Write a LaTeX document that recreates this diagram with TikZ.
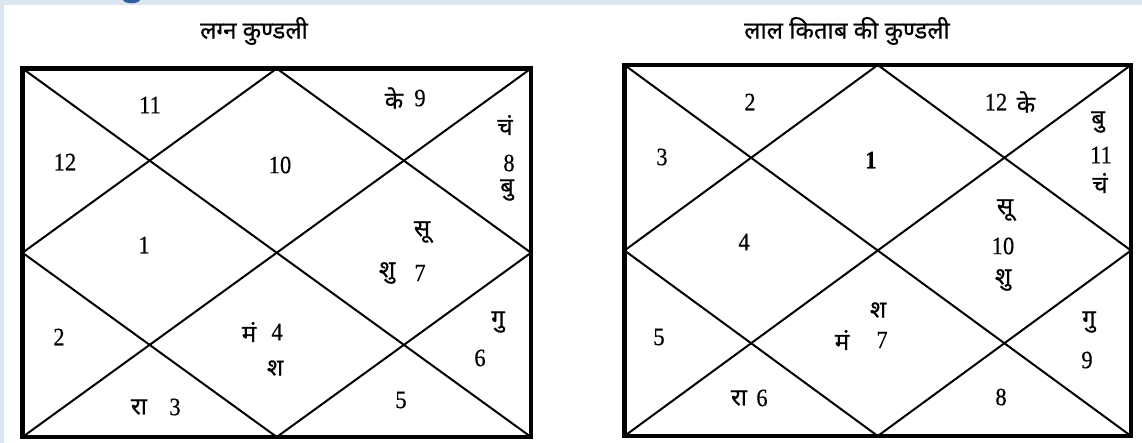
\documentclass[tikz,border=0pt]{standalone}
\usepackage{fontspec}
\setmainfont{Liberation Serif}
\newfontfamily\devfont[Script=Devanagari,FakeBold=0.6]{Noto Sans}
\newfontfamily\numfont[FakeStretch=0.9,FakeBold=0.4]{Liberation Serif}
\definecolor{bgblue}{HTML}{DCE6F1}
\definecolor{blobblue}{HTML}{2F5E9C}
\tikzset{
  frame/.style={line width=4.5pt, line join=miter},
  diag/.style={line width=2pt},
  num/.style={inner sep=0pt, font=\numfont\fontsize{25}{25}\selectfont},
  pl/.style={inner sep=0pt, font=\devfont\fontsize{24}{24}\selectfont},
  ttl/.style={inner sep=0pt, font=\devfont\fontsize{24}{24}\selectfont},
}
\begin{document}
\begin{tikzpicture}[x=1pt,y=-1pt]
\useasboundingbox (0,0) rectangle (1142,443);
\clip (0,0) rectangle (1142,443);
\fill[bgblue] (0,0) rectangle (1142,443);
\fill[white] (4,5) rectangle (1142,443);
\fill[blobblue] (131.5,-0.5) ellipse (8.5 and 3.8);

% ---------- left chart ----------
\coordinate (Lnw) at (22.5,68.5);
\coordinate (Lne) at (531,68.5);
\coordinate (Lsw) at (22.5,437);
\coordinate (Lse) at (531,437);
\coordinate (Ln) at (276.75,68.5);
\coordinate (Ls) at (276.75,437);
\coordinate (Lw) at (22.5,252.75);
\coordinate (Le) at (531,252.75);
\draw[diag] (Lnw) -- (Lse);
\draw[diag] (Lne) -- (Lsw);
\draw[diag] (Ln) -- (Le) -- (Ls) -- (Lw) -- cycle;
\draw[frame] (Lnw) rectangle (Lse);

\node[ttl] (Ltitle) at (254,31) {लग्न कुण्डली};

\node[num] (L11) at (150,105) {11};
\node[pl]  (Lke) at (394,98) {के};
\node[num] (L9)  at (420,98) {9};
\node[pl]  (Lch) at (505,125) {चं};
\node[num] (L8)  at (509,163) {8};
\node[pl]  (Lbu) at (507,190) {बु};
\node[num] (L12) at (65,162) {12};
\node[num] (L10) at (280,165) {10};
\node[num] (L1)  at (144,245) {1};
\node[pl]  (Lsu) at (422,232) {सू};
\node[pl]  (Lshu) at (387,273) {शु};
\node[num] (L7)  at (420,273) {7};
\node[num] (L2)  at (59,337) {2};
\node[pl]  (Lma) at (249,332) {मं};
\node[num] (L4)  at (277,332) {4};
\node[pl]  (Lsha) at (275,368) {श};
\node[pl]  (Lgu) at (498,322) {गु};
\node[num] (L6)  at (480,358) {6};
\node[num] (L5)  at (401,400) {5};
\node[pl]  (Lra) at (139,407) {रा};
\node[num] (L3)  at (175,407) {3};

% ---------- right chart ----------
\coordinate (Rnw) at (624.5,65);
\coordinate (Rne) at (1131,65);
\coordinate (Rsw) at (624.5,436);
\coordinate (Rse) at (1131,436);
\coordinate (Rn) at (877.75,65);
\coordinate (Rs) at (877.75,436);
\coordinate (Rw) at (624.5,250.5);
\coordinate (Re) at (1131,250.5);
\draw[diag] (Rnw) -- (Rse);
\draw[diag] (Rne) -- (Rsw);
\draw[diag] (Rn) -- (Re) -- (Rs) -- (Rw) -- cycle;
\draw[frame] (Rnw) rectangle (Rse);

\node[ttl] (Rtitle) at (847,31) {लाल किताब की कुण्डली};

\node[num] (R2)  at (750,102) {2};
\node[num] (R12) at (996,102) {12};
\node[pl]  (Rke) at (1026,102) {के};
\node[pl]  (Rbu) at (1098,122) {बु};
\node[num] (R11) at (1101,155) {11};
\node[pl]  (Rch) at (1100,183) {चं};
\node[num] (R3)  at (662,157) {3};
\node[num,font=\numfont\bfseries\fontsize{25}{25}\selectfont] (R1) at (871,160) {1};
\node[num] (R4)  at (744,242) {4};
\node[pl]  (Rsu) at (1005,210) {सू};
\node[num] (R10) at (1003,246) {10};
\node[pl]  (Rshu) at (1003,280) {शु};
\node[pl]  (Rsha) at (878,310) {श};
\node[pl]  (Rma) at (842,340) {मं};
\node[num] (R7)  at (882,340) {7};
\node[num] (R5)  at (659,337) {5};
\node[pl]  (Rgu) at (1089,322) {गु};
\node[num] (R9)  at (1087,360) {9};
\node[pl]  (Rra) at (739,398) {रा};
\node[num] (R6)  at (762,398) {6};
\node[num] (R8)  at (1001,397) {8};
\end{tikzpicture}
\end{document}
